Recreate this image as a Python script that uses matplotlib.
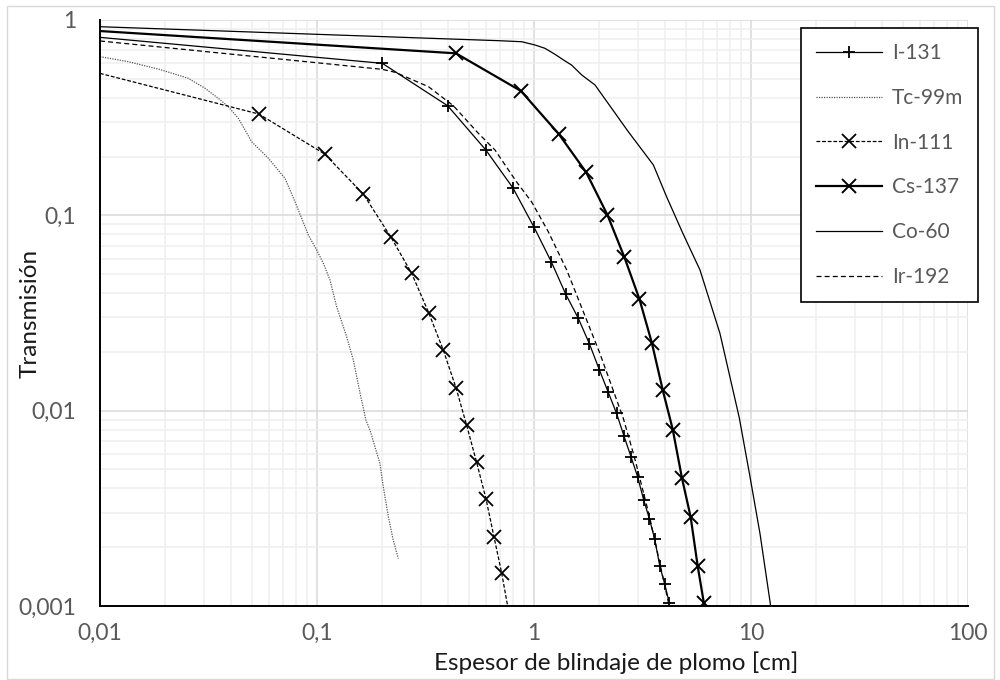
import numpy as np
import matplotlib
matplotlib.use("Agg")
import matplotlib.pyplot as plt
from matplotlib.lines import Line2D
from matplotlib.patches import Rectangle
from matplotlib.ticker import FixedLocator, LogLocator, NullFormatter

# ---------------- data ----------------
i131_x = [0.01, 0.2, 0.4, 0.6, 0.8, 1.0, 1.2, 1.4, 1.6, 1.8, 2.0, 2.2, 2.4, 2.6,
          2.8, 3.0, 3.2, 3.4, 3.6, 3.8, 4.0, 4.2]
i131_y = [0.815, 0.600, 0.364, 0.216, 0.138, 0.087, 0.058, 0.0395, 0.0297, 0.022,
          0.0162, 0.0124, 0.0097, 0.0074, 0.0058, 0.0046, 0.0035, 0.0028, 0.0022,
          0.0016, 0.0013, 0.00104]

tc99m_x = [0.01, 0.0135, 0.0192, 0.0255, 0.0305, 0.0351, 0.039, 0.0434, 0.050,
           0.0597, 0.0712, 0.0792, 0.0912, 0.0997, 0.107, 0.1148, 0.1232, 0.137,
           0.147, 0.158, 0.168, 0.1754, 0.195, 0.202, 0.2133, 0.2246, 0.237]
tc99m_y = [0.649, 0.612, 0.555, 0.503, 0.447, 0.397, 0.36, 0.314, 0.238,
           0.196, 0.1547, 0.1174, 0.0793, 0.0664, 0.0568, 0.0466, 0.034, 0.0239,
           0.01816, 0.01226, 0.00895, 0.00796, 0.00537, 0.00408, 0.00286, 0.00217,
           0.00175]

in111_x = [0.01, 0.054, 0.1085, 0.1634, 0.2186, 0.273, 0.328, 0.382, 0.437,
           0.489, 0.544, 0.601, 0.654, 0.710, 0.756]
in111_y = [0.533, 0.330, 0.206, 0.1285, 0.0777, 0.0505, 0.0315, 0.0204, 0.0131,
           0.00844, 0.00544, 0.00353, 0.00226, 0.00147, 0.001]

cs137_x = [0.01, 0.437, 0.871, 1.30, 1.74, 2.18, 2.61, 3.06, 3.49, 3.92, 4.36,
           4.81, 5.27, 5.68, 6.07]
cs137_y = [0.878, 0.675, 0.433, 0.261, 0.166, 0.1004, 0.061, 0.0373, 0.0223,
           0.01275, 0.0080, 0.0045, 0.00286, 0.0016, 0.00103]

co60_x = [0.01, 0.7, 0.878, 1.01, 1.124, 1.25, 1.39, 1.49, 1.66, 1.91, 2.28, 2.72,
          3.19, 3.55, 4.09, 4.85, 5.82, 7.19, 8.83, 9.89, 11.0, 12.32]
co60_y = [0.924, 0.783, 0.774, 0.745, 0.716, 0.667, 0.617, 0.588, 0.523, 0.465,
          0.353, 0.268, 0.212, 0.181, 0.124, 0.081, 0.0525, 0.0249, 0.0092, 0.0046,
          0.00235, 0.001]

ir192_x = [0.01, 0.2, 0.229, 0.326, 0.425, 0.554, 0.661, 0.83, 0.976, 1.164,
           1.415, 2.01, 2.58, 2.9, 3.4, 4.2]
ir192_y = [0.781, 0.559, 0.54, 0.456, 0.364, 0.263, 0.216, 0.1486, 0.117, 0.0824,
           0.0525, 0.0197, 0.00913, 0.0058, 0.0029, 0.001]

series_names = ["I-131", "Tc-99m", "In-111", "Cs-137", "Co-60", "Ir-192"]

x_ticks = [0.01, 0.1, 1, 10, 100]
x_tick_labels = ["0,01", "0,1", "1", "10", "100"]
y_ticks = [0.001, 0.01, 0.1, 1]
y_tick_labels = ["0,001", "0,01", "0,1", "1"]

x_title = "Espesor de blindaje de plomo [cm]"
y_title = "Transmisión"

# ---------------- figure ----------------
FONT = "Lato"
plt.rcParams["font.family"] = [FONT, "DejaVu Sans"]
W, H = 1000, 680
fig = plt.figure(figsize=(W / 100, H / 100), dpi=100)
fig.patch.set_facecolor("white")

ax = fig.add_axes([100 / W, 1 - 606 / H, 868 / W, 586 / H])
ax.set_xscale("log")
ax.set_yscale("log")
ax.set_xlim(0.01, 100)
ax.set_ylim(0.001, 1)

ax.xaxis.set_major_locator(FixedLocator(x_ticks))
ax.yaxis.set_major_locator(FixedLocator(y_ticks))
ax.set_xticklabels(x_tick_labels)
ax.set_yticklabels(y_tick_labels)
ax.xaxis.set_minor_locator(LogLocator(base=10, subs=np.arange(2, 10)))
ax.yaxis.set_minor_locator(LogLocator(base=10, subs=np.arange(2, 10)))
ax.xaxis.set_minor_formatter(NullFormatter())
ax.yaxis.set_minor_formatter(NullFormatter())

ax.set_axisbelow(True)
ax.grid(which="minor", color="#efefef", lw=1.1)
ax.grid(which="major", color="#d9d9d9", lw=1.1)
ax.tick_params(which="both", length=0)
ax.tick_params(axis="x", labelsize=16.5, labelcolor="#595959", pad=12)
ax.tick_params(axis="y", labelsize=16.5, labelcolor="#595959", pad=17)

for s in ("top", "right"):
    ax.spines[s].set_visible(False)
for s in ("left", "bottom"):
    ax.spines[s].set_color("black")
    ax.spines[s].set_linewidth(1.4)
    ax.spines[s].set_zorder(5)

styles = {
    "I-131": dict(color="black", lw=0.9, ls="-", marker="+", ms=9, mew=1.3),
    "Tc-99m": dict(color="#555555", lw=0.9, ls=(0, (1, 1)), marker=None),
    "In-111": dict(color="black", lw=0.9, ls=(0, (3, 1.5)), marker="x", ms=9.5, mew=1.3),
    "Cs-137": dict(color="black", lw=1.6, ls="-", marker="x", ms=9.5, mew=1.4),
    "Co-60": dict(color="black", lw=0.9, ls="-", marker=None),
    "Ir-192": dict(color="black", lw=0.9, ls=(0, (4, 2.5)), marker=None),
}

ax.plot(i131_x, i131_y, markevery=slice(1, None), **styles["I-131"])
ax.plot(tc99m_x, tc99m_y, **styles["Tc-99m"])
ax.plot(in111_x, in111_y, markevery=slice(1, -1), **styles["In-111"])
ax.plot(cs137_x, cs137_y, markevery=slice(1, None), **styles["Cs-137"])
ax.plot(co60_x, co60_y, **styles["Co-60"])
ax.plot(ir192_x, ir192_y, **styles["Ir-192"])

handles = []
for name in series_names:
    st = dict(styles[name])
    handles.append(Line2D([], [], **st))
leg = ax.legend(handles, series_names, loc="upper left",
                bbox_to_anchor=(801 / W, 1 - 28.5 / H), bbox_transform=fig.transFigure,
                frameon=True, fancybox=False, framealpha=1, edgecolor="black",
                borderaxespad=0, borderpad=0.7, labelspacing=1.19,
                handlelength=3.2, handletextpad=0.45, numpoints=1,
                prop={"family": FONT, "size": 15})
leg.get_frame().set_linewidth(1.2)
for t in leg.get_texts():
    t.set_color("#595959")

fig.text(616 / W, 1 - 663 / H, x_title, ha="center", va="center",
         fontsize=17.5, color="#1a1a1a", family=FONT)
fig.text(30 / W, 1 - 313 / H, y_title, ha="center", va="center", rotation=90,
         fontsize=17.5, color="#1a1a1a", family=FONT)

fig.patches.append(Rectangle((7 / W, 1 - 679 / H), 987 / W, 673 / H,
                             transform=fig.transFigure, fill=False,
                             ec="#d9d9d9", lw=1.0))

fig.savefig("out.png", dpi=100, facecolor="white")
